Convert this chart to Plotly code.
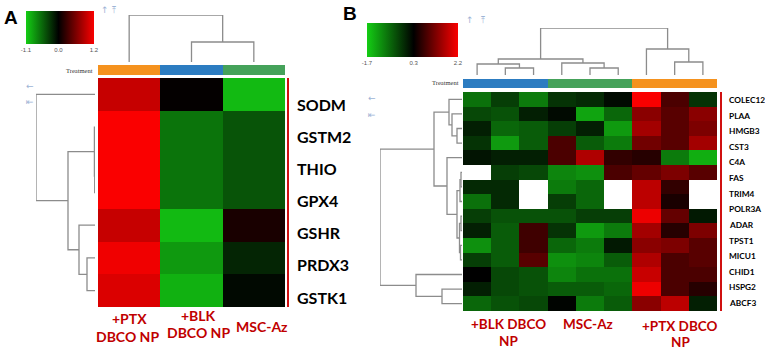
import plotly.graph_objects as go
import math

W, H = 765, 349
nan = float("nan")

# ---------------- DATA ----------------
# Panel A
A_cols = ["+PTX DBCO NP", "+BLK DBCO NP", "MSC-Az"]
A_treat = [0, 1, 2]  # orange, blue, green
A_rows = ["SODM", "GSTM2", "THIO", "GPX4", "GSHR", "PRDX3", "GSTK1"]
A_z = [
    [0.95, 0.02, -1.00],
    [1.20, -0.62, -0.45],
    [1.20, -0.62, -0.45],
    [1.20, -0.62, -0.45],
    [0.95, -1.00, 0.12],
    [1.15, -0.82, -0.20],
    [1.05, -0.95, -0.05],
]
A_ticks = [-1.1, 0.0, 1.2]
# dendrogram merges (child a, child b, height)
A_top_merges = [(1, 2, 20), (0, 3, 47)]
A_left_merges = [(2, 3, 0.3), (1, 7, 0.6), (5, 6, 8), (4, 9, 16), (8, 10, 27), (0, 11, 59)]

# Panel B
B_cols = ["BLK1", "BLK2", "BLK3", "MSC1", "MSC2", "MSC3", "PTX1", "PTX2", "PTX3"]
B_treat = [1, 1, 1, 2, 2, 2, 0, 0, 0]
B_labels = ["COLEC12", "PLAA", "HMGB3", "CST3", "C4A", "FAS", "TRIM4", "POLR3A",
            "ADAR", "TPST1", "MICU1", "CHID1", "HSPG2", "ABCF3"]
B_z = [
    [-0.8, -0.3, -0.9, -0.2, -0.1, 0.2, 2.2, 0.87, -0.2],
    [-0.4, -0.5, 0.0, 0.2, -1.3, -0.7, 1.35, 0.97, 1.35],
    [0.0, -0.7, -0.6, -0.3, 0.0, -1.2, 1.54, 0.97, 1.25],
    [-0.2, -1.2, -0.6, 0.87, -0.6, -0.9, 1.16, 0.97, 1.54],
    [0.1, 0.0, 0.0, 0.87, 1.63, 0.68, 0.59, -0.9, -1.4],
    [nan, -0.3, -0.4, -1.0, -1.1, 0.87, 1.06, 1.25, 0.97],
    [-0.1, -0.1, nan, -0.9, -0.7, nan, 1.73, 0.68, nan],
    [-0.8, -0.1, nan, -0.3, -0.7, nan, 1.73, 0.49, nan],
    [-0.3, -0.5, -0.5, -0.5, -0.3, -0.3, 2.1, 1.06, 0.06],
    [0.0, -0.6, 0.78, -0.2, -1.2, -0.9, 1.54, 0.59, 1.25],
    [-1.1, -0.6, 0.78, -0.7, -0.9, 0.06, 1.35, 1.25, 0.97],
    [-0.3, -0.6, 0.97, -1.1, -1.0, -0.6, 1.63, 0.87, 0.97],
    [0.3, -0.4, -0.5, -1.0, -0.8, -0.8, 1.82, 0.87, 0.87],
    [0.0, -0.4, -0.5, -0.6, -0.6, -0.7, 2.1, 0.87, 0.59],
    [-0.7, -0.5, -0.4, 0.26, -0.9, -0.6, 1.35, 1.73, 0.0],
]
B_ticks = [-1.7, 0.3, 2.2]
B_top_merges = [(1, 2, 7), (0, 9, 11), (4, 5, 7), (3, 11, 12), (10, 12, 16),
                (7, 8, 13), (6, 14, 26), (13, 15, 47)]
B_left_merges = [(2, 3, 5), (1, 15, 10), (0, 16, 13),
                 (5, 6, 1), (18, 7, 2), (8, 9, 1), (10, 11, 1.5), (20, 21, 2.5), (19, 22, 5),
                 (4, 23, 15), (17, 24, 28), (13, 14, 20), (12, 26, 46), (25, 27, 82)]

treat_colors = ["#F5921E", "#2C7CC1", "#45A25A"]

# ---------------- HELPERS ----------------
def px(x):
    return x / W

def py(y):
    return 1 - y / H

def dendro(n, merges):
    pos = {i: float(i) for i in range(n)}
    hgt = {i: 0.0 for i in range(n)}
    P, Hh = [], []
    for k, (a, b, h) in enumerate(merges):
        node = n + k
        P += [pos[a], pos[a], pos[b], pos[b], None]
        Hh += [hgt[a], h, h, hgt[b], None]
        pos[node] = (pos[a] + pos[b]) / 2
        hgt[node] = h
    return P, Hh

def rgb_scale(mid):
    return [[0, "rgb(20,205,20)"], [mid, "rgb(0,0,0)"], [1, "rgb(250,0,0)"]]

fig = go.Figure()
dcol = "#8c8c8c"

# ---------------- PANEL A ----------------
nA_r, nA_c = len(A_rows), len(A_cols)
midA = (0 - A_ticks[0]) / (A_ticks[-1] - A_ticks[0])
fig.add_trace(go.Heatmap(
    z=A_z, x=list(range(nA_c)), y=list(range(nA_r)),
    zmin=A_ticks[0], zmax=A_ticks[-1], colorscale=rgb_scale(midA),
    xaxis="x", yaxis="y", hoverinfo="skip",
    colorbar=dict(orientation="h", x=px(26), xanchor="left", y=py(11), yanchor="top",
                  len=68, lenmode="pixels", thickness=33, thicknessmode="pixels",
                  xpad=0, ypad=0, outlinewidth=0, tickvals=A_ticks,
                  ticktext=["-1.1", "0.0", "1.2"], ticks="",
                  tickfont=dict(size=6, color="#555", family="Liberation Sans")),
))
# treatment bar A
fig.add_trace(go.Heatmap(
    z=[A_treat], x=list(range(nA_c)), zmin=0, zmax=2, showscale=False,
    colorscale=[[0, treat_colors[0]], [0.5, treat_colors[1]], [1, treat_colors[2]]],
    xaxis="x3", yaxis="y3", hoverinfo="skip"))
# top dendrogram A
p, h = dendro(nA_c, A_top_merges)
fig.add_trace(go.Scatter(x=p, y=h, mode="lines", line=dict(color=dcol, width=1.3),
                         xaxis="x2", yaxis="y2", hoverinfo="skip", showlegend=False))
# left dendrogram A
p, h = dendro(nA_r, A_left_merges)
fig.add_trace(go.Scatter(x=h, y=p, mode="lines", line=dict(color=dcol, width=1.3),
                         xaxis="x4", yaxis="y4", hoverinfo="skip", showlegend=False))

# ---------------- PANEL B ----------------
nB_r, nB_c = len(B_z), len(B_cols)
midB = (0.3 - B_ticks[0]) / (B_ticks[-1] - B_ticks[0])
fig.add_trace(go.Heatmap(
    z=B_z, x=list(range(nB_c)), y=list(range(nB_r)),
    zmin=B_ticks[0], zmax=B_ticks[-1], colorscale=rgb_scale(midB),
    xaxis="x5", yaxis="y5", hoverinfo="skip",
    colorbar=dict(orientation="h", x=px(367), xanchor="left", y=py(23), yanchor="top",
                  len=91, lenmode="pixels", thickness=34, thicknessmode="pixels",
                  xpad=0, ypad=0, outlinewidth=0, tickvals=B_ticks,
                  ticktext=["-1.7", "0.3", "2.2"], ticks="",
                  tickfont=dict(size=6, color="#555", family="Liberation Sans")),
))
fig.add_trace(go.Heatmap(
    z=[B_treat], x=list(range(nB_c)), zmin=0, zmax=2, showscale=False,
    colorscale=[[0, treat_colors[0]], [0.5, treat_colors[1]], [1, treat_colors[2]]],
    xaxis="x7", yaxis="y7", hoverinfo="skip"))
p, h = dendro(nB_c, B_top_merges)
fig.add_trace(go.Scatter(x=p, y=h, mode="lines", line=dict(color=dcol, width=1.3),
                         xaxis="x6", yaxis="y6", hoverinfo="skip", showlegend=False))
p, h = dendro(nB_r, B_left_merges)
fig.add_trace(go.Scatter(x=h, y=p, mode="lines", line=dict(color=dcol, width=1.3),
                         xaxis="x8", yaxis="y8", hoverinfo="skip", showlegend=False))

# ---------------- AXES ----------------
def ax(domain, rng=None, **kw):
    d = dict(domain=domain, showgrid=False, zeroline=False, showticklabels=False,
             ticks="", showline=False, fixedrange=True)
    if rng is not None:
        d["range"] = rng
    d.update(kw)
    return d

lay = {}
# A
lay["xaxis"] = ax([px(98), px(285)], [-0.5, nA_c - 0.5])
lay["yaxis"] = ax([py(307), py(78)], [nA_r - 0.5, -0.5])
lay["xaxis2"] = ax([px(98), px(285)], [-0.5, nA_c - 0.5], anchor="y2")
lay["yaxis2"] = ax([py(62), py(15)], [0, A_top_merges[-1][2]], anchor="x2")
lay["xaxis3"] = ax([px(98), px(285)], [-0.5, nA_c - 0.5], anchor="y3")
lay["yaxis3"] = ax([py(75), py(65)], [-0.5, 0.5], anchor="x3")
lay["xaxis4"] = ax([px(36), px(95)], [A_left_merges[-1][2], 0], anchor="y4")
lay["yaxis4"] = ax([py(307), py(78)], [nA_r - 0.5, -0.5], anchor="x4")
# B
lay["xaxis5"] = ax([px(463), px(717)], [-0.5, nB_c - 0.5], anchor="y5")
lay["yaxis5"] = ax([py(311), py(92)], [nB_r - 0.5, -0.5], anchor="x5")
lay["xaxis6"] = ax([px(463), px(717)], [-0.5, nB_c - 0.5], anchor="y6")
lay["yaxis6"] = ax([py(75), py(28)], [0, B_top_merges[-1][2]], anchor="x6")
lay["xaxis7"] = ax([px(463), px(717)], [-0.5, nB_c - 0.5], anchor="y7")
lay["yaxis7"] = ax([py(88), py(79)], [-0.5, 0.5], anchor="x7")
lay["xaxis8"] = ax([px(380), px(462)], [B_left_merges[-1][2], 0], anchor="y8")
lay["yaxis8"] = ax([py(311), py(92)], [nB_r - 0.5, -0.5], anchor="x8")

# ---------------- TEXT ----------------
anns = []
def ann(text, x, y, size, color="black", xanchor="left", family="Lato", bold=True):
    anns.append(dict(text=(f"<b>{text}</b>" if bold else text), x=px(x), y=py(y),
                     xref="paper", yref="paper", xanchor=xanchor, yanchor="middle",
                     showarrow=False, font=dict(size=size, color=color, family=family)))

ann("A", 2, 17, 19, family="Liberation Sans")
ann("B", 341, 13, 19, family="Liberation Sans")

# A row labels
for i, lab in enumerate(A_rows):
    yv = 104 + i * (297 - 104) / (len(A_rows) - 1)
    ann(lab, 295, yv, 16)
# B row labels
for i, lab in enumerate(B_labels):
    yv = 100 + i * (303 - 100) / (len(B_labels) - 1)
    ann(lab, 727, yv, 8.3)

red = "#C00000"
ann("+PTX", 129, 318, 14, red, "center")
ann("DBCO NP", 128, 336, 14, red, "center")
ann("+BLK", 198, 315, 14, red, "center")
ann("DBCO NP", 198, 332, 14, red, "center")
ann("MSC-Az", 262, 326, 14, red, "center")
ann("+BLK DBCO", 508, 324, 13.5, red, "center")
ann("NP", 508, 341, 13.5, red, "center")
ann("MSC-Az", 588, 324, 13.5, red, "center")
ann("+PTX DBCO", 679, 326, 13.5, red, "center")
ann("NP", 680, 342, 13.5, red, "center")

ann("Treatment", 95, 70, 6.5, "#333", "right", "Liberation Sans Narrow", bold=False)
ann("Treatment", 461, 83, 6.5, "#333", "right", "Liberation Sans Narrow", bold=False)

icon = "#9db4d6"
ann("↑", 105, 10, 9, icon, "center", "DejaVu Sans", False)
ann("⤒", 114, 10, 9, icon, "center", "DejaVu Sans", False)
ann("←", 30, 86, 9, icon, "center", "DejaVu Sans", False)
ann("⇤", 30, 102, 9, icon, "center", "DejaVu Sans", False)
ann("↑", 470, 20, 9, icon, "center", "DejaVu Sans", False)
ann("⤒", 483, 20, 9, icon, "center", "DejaVu Sans", False)
ann("←", 372, 98, 9, icon, "center", "DejaVu Sans", False)
ann("⇤", 372, 115, 9, icon, "center", "DejaVu Sans", False)

shapes = [
    dict(type="line", xref="paper", yref="paper", x0=px(288), x1=px(288),
         y0=py(78), y1=py(307), line=dict(color="#D01010", width=2)),
    dict(type="line", xref="paper", yref="paper", x0=px(721), x1=px(721),
         y0=py(92), y1=py(311), line=dict(color="#D01010", width=2)),
]

fig.update_layout(width=W, height=H, margin=dict(l=0, r=0, t=0, b=0),
                  paper_bgcolor="white", plot_bgcolor="rgba(0,0,0,0)",
                  showlegend=False, annotations=anns, shapes=shapes, **lay)
fig.write_html("out.html", config={"displayModeBar": False},
               post_script="document.body.style.margin='0';document.body.style.padding='0';")
